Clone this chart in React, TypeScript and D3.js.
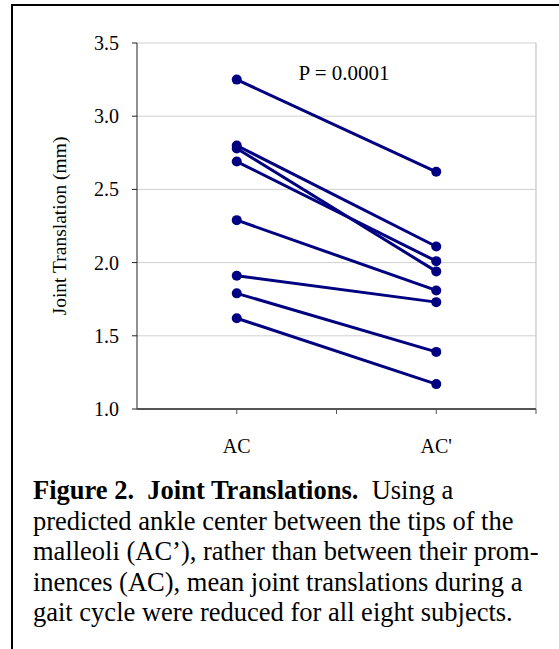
import * as d3 from "d3";

// Paired joint translations per subject.
const categories = ["AC", "AC'"];
const acValues = [3.25, 2.8, 2.78, 2.69, 2.29, 1.91, 1.79, 1.62];
const acPrimeValues = [2.62, 2.11, 1.94, 2.01, 1.81, 1.73, 1.39, 1.17];
const yTicks = [1.0, 1.5, 2.0, 2.5, 3.0, 3.5];
const xTicks = [0, 1, 2, 3, 4];
const categoryPos = [1, 3];

const W = 559;
const H = 649;
const SERIF = "'Liberation Serif', 'Times New Roman', serif";
const NAVY = "#000080";

const plot = { left: 137, right: 536, top: 43, bottom: 409 };

const captionLines = [
  "predicted ankle center between the tips of the",
  "malleoli (AC’), rather than between their prom-",
  "inences (AC), mean joint translations during a",
  "gait cycle were reduced for all eight subjects.",
];

export default function App() {
  const x = d3.scaleLinear().domain([0, 4]).range([plot.left, plot.right]);
  const y = d3.scaleLinear().domain([1, 3.5]).range([plot.bottom, plot.top]);

  const pairs = acValues.map((v, i) => [
    [categoryPos[0], v],
    [categoryPos[1], acPrimeValues[i]],
  ] as [number, number][]);

  const line = d3
    .line<[number, number]>()
    .x((d) => x(d[0]))
    .y((d) => y(d[1]));

  return (
    <div style={{ position: "absolute", left: 0, top: 0 }}>
      <svg width={W} height={H} style={{ display: "block", background: "#fff" }}>
        {/* outer frame, runs off the right and bottom edges */}
        <rect x={12} y={5} width={600} height={700} fill="none" stroke="#000" strokeWidth={2} />

        {/* gridlines */}
        {yTicks.map((t) => (
          <line key={t} x1={plot.left} x2={plot.right} y1={y(t)} y2={y(t)} stroke="#d0d0d0" strokeWidth={1} />
        ))}
        {/* plot area right border */}
        <line x1={plot.right} x2={plot.right} y1={plot.top} y2={plot.bottom} stroke="#c4c4c4" strokeWidth={1.2} />

        {/* y axis */}
        <line x1={plot.left} x2={plot.left} y1={plot.top} y2={plot.bottom} stroke="#222" strokeWidth={1} />
        {yTicks.map((t) => (
          <g key={t}>
            <line x1={plot.left - 5} x2={plot.left} y1={y(t)} y2={y(t)} stroke="#222" strokeWidth={1} />
            <text
              x={plot.left - 18}
              y={y(t)}
              dy="0.35em"
              textAnchor="end"
              fontFamily={SERIF}
              fontSize={20}
              fill="#000"
            >
              {d3.format(".1f")(t)}
            </text>
          </g>
        ))}
        <text
          transform={`translate(${66},${(plot.top + plot.bottom) / 2}) rotate(-90)`}
          textAnchor="middle"
          fontFamily={SERIF}
          fontSize={19.5}
          fill="#000"
        >
          Joint Translation (mm)
        </text>

        {/* x axis */}
        <line x1={plot.left} x2={plot.right} y1={plot.bottom} y2={plot.bottom} stroke="#555" strokeWidth={2} />
        {xTicks.slice(1).map((t) => (
          <line key={t} x1={x(t)} x2={x(t)} y1={plot.bottom} y2={plot.bottom + 5} stroke="#555" strokeWidth={1} />
        ))}
        {categories.map((c, i) => (
          <text
            key={c}
            x={x(categoryPos[i])}
            y={453}
            textAnchor="middle"
            fontFamily={SERIF}
            fontSize={20}
            fill="#000"
          >
            {c}
          </text>
        ))}

        {/* paired lines */}
        {pairs.map((p, i) => (
          <path key={i} d={line(p) ?? ""} fill="none" stroke={NAVY} strokeWidth={3} />
        ))}
        {pairs.map((p, i) =>
          p.map((d, j) => <circle key={`${i}-${j}`} cx={x(d[0])} cy={y(d[1])} r={5} fill={NAVY} />)
        )}

        <text x={344} y={80} textAnchor="middle" fontFamily={SERIF} fontSize={21} fill="#000">
          P = 0.0001
        </text>

        {/* caption */}
        <g fontFamily={SERIF} fontSize={26.5} fill="#000">
          <text x={33} y={499} xmlSpace="preserve">
            <tspan fontWeight="bold">Figure 2.  Joint Translations.</tspan>
            <tspan>  Using a</tspan>
          </text>
          {captionLines.map((l, i) => (
            <text key={i} x={33} y={529.5 + i * 30.5}>
              {l}
            </text>
          ))}
        </g>
      </svg>
    </div>
  );
}
